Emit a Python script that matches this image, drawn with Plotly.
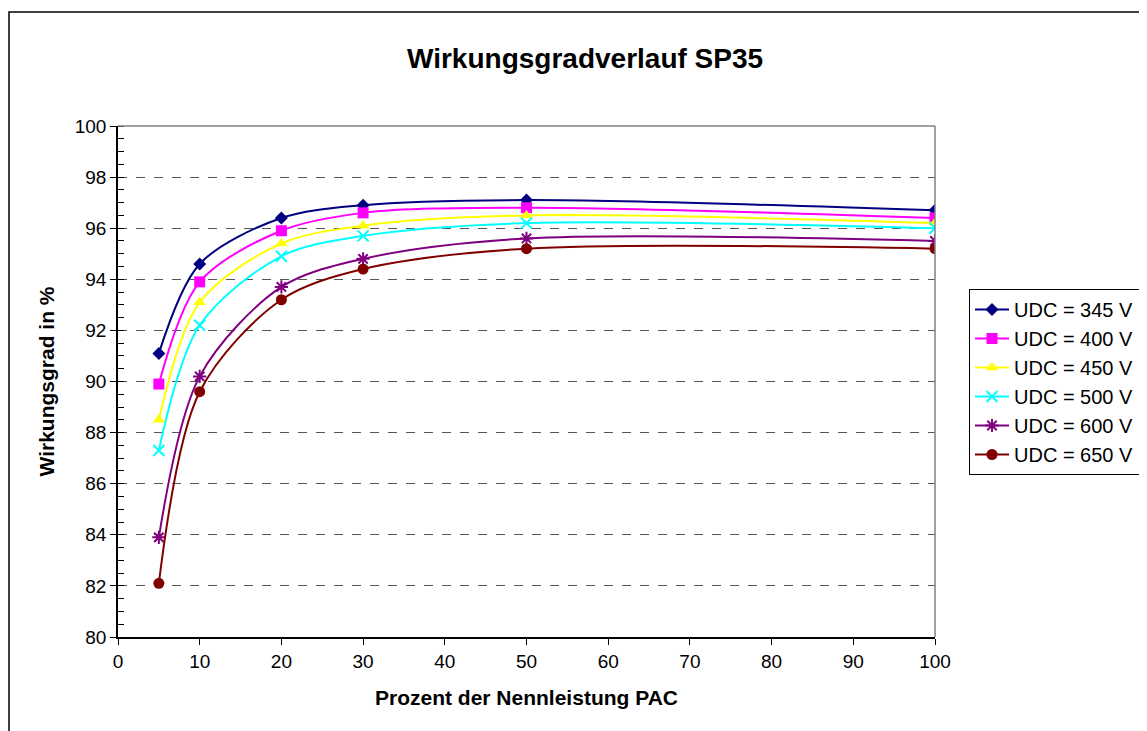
import plotly.graph_objects as go

x_pct = [5, 10, 20, 30, 50, 100]
series_names = ["UDC = 345 V", "UDC = 400 V", "UDC = 450 V", "UDC = 500 V", "UDC = 600 V", "UDC = 650 V"]
udc345 = [91.1, 94.6, 96.4, 96.9, 97.1, 96.7]
udc400 = [89.9, 93.9, 95.9, 96.6, 96.8, 96.4]
udc450 = [88.5, 93.1, 95.4, 96.1, 96.5, 96.2]
udc500 = [87.3, 92.2, 94.9, 95.7, 96.2, 96.0]
udc600 = [83.9, 90.2, 93.7, 94.8, 95.6, 95.5]
udc650 = [82.1, 89.6, 93.2, 94.4, 95.2, 95.2]
x_ticks = [0, 10, 20, 30, 40, 50, 60, 70, 80, 90, 100]
y_ticks = [80, 82, 84, 86, 88, 90, 92, 94, 96, 98, 100]

values = [udc345, udc400, udc450, udc500, udc600, udc650]
colors = ["#000080", "#FF00FF", "#FFFF00", "#00FFFF", "#800080", "#800000"]
symbols = ["diamond", "square", "triangle-up", "x-thin-open", "asterisk-open", "circle"]
sizes = [10, 11, 11, 11, 11, 11]

fig = go.Figure()
for name, v, c, s, sz in zip(series_names, values, colors, symbols, sizes):
    fig.add_trace(go.Scatter(
        x=x_pct, y=v, name=name, mode="lines+markers",
        line=dict(color=c, width=2, shape="spline", smoothing=0.9),
        marker=dict(symbol=s, size=sz, color=c, line=dict(color=c, width=2 if "open" in s else 0)),
    ))

# invisible trace on overlay axis for inner major ticks
fig.add_trace(go.Scatter(x=[0], y=[80], yaxis="y2", showlegend=False, mode="markers",
                         marker=dict(opacity=0), hoverinfo="skip"))

OFF = 8  # page body margin
W, H = 1139, 723
L, T = 118 - OFF, 126 - OFF
pw, ph = 817, 511
R = W - L - pw
B = H - T - ph

def px(xp):
    return (xp - OFF - L) / pw

def py(yp):
    return (T + ph - (yp - OFF)) / ph

font = "Liberation Sans, Arial, sans-serif"

fig.update_layout(
    width=W, height=H,
    margin=dict(l=L, r=R, t=T, b=B, autoexpand=False),
    paper_bgcolor="white", plot_bgcolor="white",
    font=dict(family=font, size=19, color="black"),
    showlegend=True,
    legend=dict(x=px(969), y=py(289), xanchor="left", yanchor="top",
                bordercolor="black", borderwidth=1, bgcolor="white",
                font=dict(size=20, family=font), tracegroupgap=0, itemwidth=34),
    xaxis=dict(range=[0, 100], tickvals=x_ticks, showgrid=False, zeroline=False,
               showline=True, linecolor="black", linewidth=1.5,
               ticks="outside", ticklen=6, tickcolor="black",
               tickfont=dict(size=19),
               title=dict(text="<b>Prozent der Nennleistung PAC</b>", font=dict(size=21), standoff=20)),
    yaxis=dict(range=[80, 100], tickvals=y_ticks, showgrid=True, gridcolor="#555555",
               griddash="dash", gridwidth=1, zeroline=False,
               showline=True, linecolor="black", linewidth=1.5,
               ticks="outside", ticklen=6, tickcolor="black",
               minor=dict(dtick=0.5, ticks="inside", ticklen=6, tickcolor="black", showgrid=False),
               tickfont=dict(size=19),
               title=dict(text="<b>Wirkungsgrad in %</b>", font=dict(size=21), standoff=14)),
    yaxis2=dict(range=[80, 100], tickvals=y_ticks, overlaying="y", side="left",
                showgrid=False, zeroline=False, showticklabels=False,
                ticks="inside", ticklen=6, tickcolor="black", showline=False),
)

fig.add_annotation(text="<b>Wirkungsgradverlauf SP35</b>", x=px(585), y=py(58),
                   xref="paper", yref="paper", showarrow=False,
                   xanchor="center", yanchor="middle",
                   font=dict(size=28, family=font))

# top and right plot borders (gray)
fig.add_shape(type="line", xref="paper", yref="paper", x0=0, x1=1, y0=1, y1=1,
              line=dict(color="#808080", width=1.5))
fig.add_shape(type="line", xref="paper", yref="paper", x0=1, x1=1, y0=0, y1=1,
              line=dict(color="#808080", width=1.5))
# outer chart border
fig.add_shape(type="rect", xref="paper", yref="paper",
              x0=px(9), x1=px(1175), y0=py(750), y1=py(12),
              line=dict(color="black", width=1.5), layer="below")

fig.write_html("out.html")
